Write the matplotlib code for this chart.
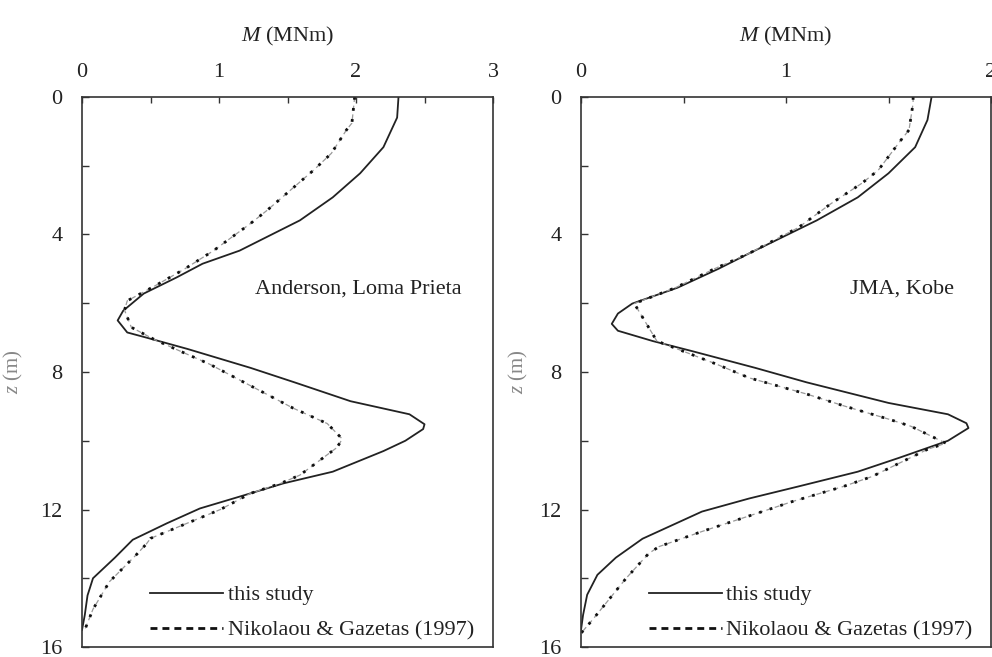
import matplotlib
matplotlib.use('Agg')
import matplotlib.pyplot as plt
from matplotlib.lines import Line2D

# Anderson, Loma Prieta - this study
z_and = [0, 0.6, 1.46, 2.22, 2.92, 3.59, 4.17, 4.47, 4.85, 5.25, 5.72, 6.22,
         6.5, 6.85, 7.0, 7.33, 7.88, 8.3, 8.85, 9.23, 9.52, 9.66, 10.0, 10.3,
         10.9, 11.24, 11.53, 11.97, 12.4, 12.88, 13.4, 14.0, 14.5, 15.07, 15.5]
m_and = [2.31, 2.30, 2.20, 2.03, 1.83, 1.59, 1.30, 1.15, 0.88, 0.69, 0.45, 0.30,
         0.26, 0.33, 0.47, 0.77, 1.23, 1.55, 1.96, 2.39, 2.50, 2.49, 2.36, 2.20,
         1.83, 1.47, 1.23, 0.86, 0.62, 0.37, 0.24, 0.08, 0.04, 0.02, 0.0]

# Anderson, Loma Prieta - Nikolaou & Gazetas (1997)
z_and_ng = [0, 0.76, 0.96, 1.64, 2.13, 3.3, 3.68, 4.0, 4.47, 5.0, 5.5, 5.93,
            6.2, 6.7, 7.04, 7.4, 7.77, 8.4, 9.05, 9.5, 9.95, 10.2, 11.0, 11.24,
            11.53, 12.0, 12.84, 13.0, 13.3, 14.1, 14.9, 15.5]
m_and_ng = [1.99, 1.97, 1.93, 1.82, 1.69, 1.35, 1.23, 1.12, 0.96, 0.75, 0.53, 0.33,
            0.31, 0.36, 0.52, 0.72, 0.93, 1.23, 1.54, 1.79, 1.90, 1.86, 1.59, 1.45,
            1.23, 1.01, 0.50, 0.47, 0.40, 0.20, 0.08, 0.02]

# JMA, Kobe - this study
z_kob = [0, 0.67, 1.46, 2.22, 2.92, 3.59, 4.26, 4.55, 5.0, 5.55, 6.01, 6.3,
         6.6, 6.8, 7.1, 7.39, 7.88, 8.3, 8.9, 9.23, 9.49, 9.63, 10.0, 10.5,
         10.9, 11.33, 11.68, 12.06, 12.85, 13.4, 13.9, 14.48, 15.07, 15.5]
m_kob = [1.71, 1.69, 1.63, 1.50, 1.35, 1.15, 0.92, 0.82, 0.67, 0.47, 0.25, 0.18,
         0.15, 0.18, 0.35, 0.54, 0.85, 1.10, 1.50, 1.79, 1.88, 1.89, 1.79, 1.55,
         1.35, 1.06, 0.82, 0.59, 0.30, 0.17, 0.08, 0.03, 0.01, 0.0]

# JMA, Kobe - Nikolaou & Gazetas (1997)
z_kob_ng = [0, 0.18, 0.96, 1.26, 2.13, 2.51, 3.1, 3.8, 4.55, 5.0, 5.55, 6.01,
            7.1, 7.33, 7.77, 8.17, 8.64, 9.0, 9.37, 9.58, 9.93, 10.07, 10.25,
            11.04, 11.33, 11.77, 11.97, 12.64, 13.08, 13.28, 14.0, 15.18, 15.6]
m_kob_ng = [1.62, 1.62, 1.60, 1.56, 1.45, 1.37, 1.22, 1.06, 0.82, 0.65, 0.46, 0.26,
            0.37, 0.47, 0.66, 0.82, 1.10, 1.29, 1.50, 1.61, 1.73, 1.78, 1.69,
            1.42, 1.28, 1.03, 0.93, 0.59, 0.38, 0.33, 0.22, 0.06, 0.0]

plt.rcParams['font.family'] = ['Liberation Serif', 'DejaVu Serif']
plt.rcParams['mathtext.fontset'] = 'custom'
plt.rcParams['mathtext.rm'] = 'Liberation Serif'
plt.rcParams['mathtext.it'] = 'Liberation Serif:italic'

text_col = '#222222'
fig = plt.figure(figsize=(9.92, 6.57), dpi=100)
ax1 = fig.add_axes([0.0827, 0.0152, 0.4143, 0.8372])
ax2 = fig.add_axes([0.5857, 0.0152, 0.4133, 0.8372])


def setup_axis(ax, xmax, label_x):
    ax.set_xlim(0, xmax)
    ax.set_ylim(16, 0)
    ax.xaxis.tick_top()
    ax.xaxis.set_label_position('top')
    xt = [i * 0.5 for i in range(int(xmax * 2) + 1)]
    ax.set_xticks(xt)
    ax.set_xticklabels([str(int(v)) if i % 2 == 0 else ''
                        for i, v in enumerate(xt)])
    ax.set_yticks(range(0, 17, 2))
    ax.set_yticklabels([str(v) if v % 4 == 0 else '' for v in range(0, 17, 2)])
    ax.tick_params(axis='x', direction='in', length=4, width=1, pad=11,
                   labelsize=16, labelcolor=text_col, color='#333333')
    ax.tick_params(axis='y', direction='in', length=5, width=1, pad=14,
                   labelsize=16, labelcolor=text_col, color='#333333')
    for s in ax.spines.values():
        s.set_color('#333333')
        s.set_linewidth(1.2)
    ax.set_xlabel('$M$ (MNm)', fontsize=16, color=text_col, labelpad=15)
    ax.set_ylabel('$z$ (m)', fontsize=15, color='#888888')
    ax.yaxis.set_label_coords(label_x, 0.5)


def draw_panel(ax, z, m, z_ng, m_ng):
    ax.plot(m, z, color='#222222', lw=1.3)
    ax.plot(m_ng, z_ng, color='#999999', lw=0.9, dashes=(4, 3))
    ax.plot(m_ng, z_ng, color='#111111', lw=2.0, dashes=(1, 3))


draw_panel(ax1, z_and, m_and, z_and_ng, m_and_ng)
draw_panel(ax2, z_kob, m_kob, z_kob_ng, m_kob_ng)
setup_axis(ax1, 3, -0.14)
setup_axis(ax2, 2, -0.125)

ax1.text(1.26, 5.58, 'Anderson, Loma Prieta', fontsize=16, color=text_col,
         ha='left', va='center')
ax2.text(1.31, 5.58, 'JMA, Kobe', fontsize=16, color=text_col,
         ha='left', va='center')

handles = [Line2D([], [], color='#222222', lw=1.3),
           Line2D([], [], color='#111111', lw=2.0, dashes=(2.5, 1.8))]
labels = ['this study', 'Nikolaou & Gazetas (1997)']
for ax in (ax1, ax2):
    ax.legend(handles, labels, loc='lower left', bbox_to_anchor=(0.165, 0.012),
              frameon=False, fontsize=16, handlelength=3.3, handletextpad=0.2,
              labelspacing=0.65, borderpad=0, borderaxespad=0,
              labelcolor=text_col)

fig.savefig('out.png', dpi=100)
